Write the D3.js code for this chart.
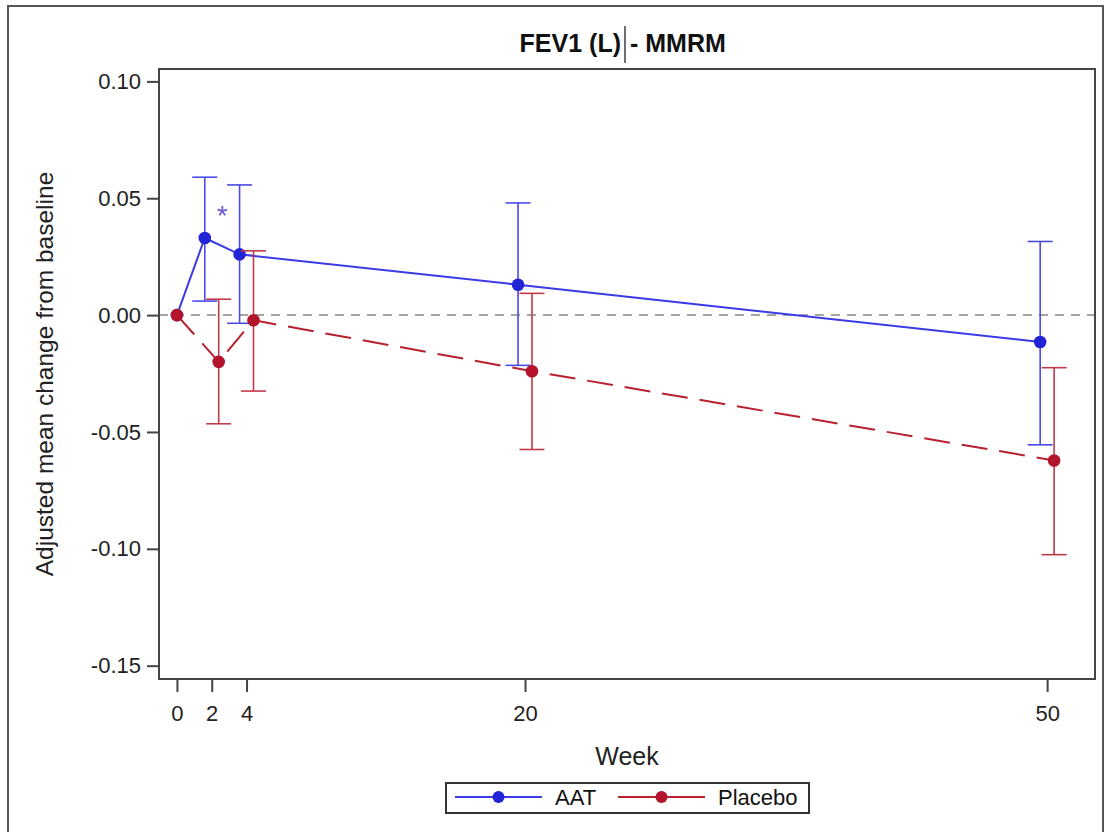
<!DOCTYPE html>
<html>
<head>
<meta charset="utf-8">
<script src="https://cdn.jsdelivr.net/npm/d3@7"></script>
<style>
  body { margin: 0; background: #fff; }
  text { font-family: "Liberation Sans", Arial, sans-serif; }
</style>
</head>
<body>
<div id="chart"></div>
<script>
// data
const weeks = [0, 2, 4, 20, 50];
const aatMean = [0, 0.033, 0.026, 0.013, -0.0115];
const aatLower = [0, 0.006, -0.0035, -0.0215, -0.0555];
const aatUpper = [0, 0.059, 0.0557, 0.048, 0.0315];
const placeboMean = [0, -0.020, -0.0022, -0.024, -0.0622];
const placeboLower = [0, -0.0465, -0.0325, -0.0575, -0.1025];
const placeboUpper = [0, 0.0068, 0.0275, 0.0093, -0.0225];
const yTicks = [-0.15, -0.10, -0.05, 0.00, 0.05, 0.10];
const starMark = { week: 2.6, value: 0.044 };

const width = 1107, height = 832;
const margin = { top: 69, right: 12, bottom: 153, left: 159 };

const svg = d3.select("#chart")
  .append("svg")
  .attr("width", width)
  .attr("height", height);

// outer border
svg.append("rect")
  .attr("x", 8).attr("y", 6)
  .attr("width", 1095).attr("height", 850)
  .attr("fill", "none")
  .attr("stroke", "#555")
  .attr("stroke-width", 2);

const x = d3.scaleLinear().domain([-1.03, 52.75]).range([margin.left, width - margin.right]);
const y = d3.scaleLinear().domain([-0.1557, 0.1053]).range([height - margin.bottom, margin.top]);

const series = [
  { name: "AAT", mean: aatMean, lo: aatLower, hi: aatUpper, shift: -0.4,
    line: "#3a3ae6", dot: "#2323d6", bar: "#4a4ae8", dash: null },
  { name: "Placebo", mean: placeboMean, lo: placeboLower, hi: placeboUpper, shift: 0.4,
    line: "#b8202f", dot: "#b3142b", bar: "#c23a4a", dash: "26,12" }
];

// zero reference line
svg.append("line")
  .attr("x1", x(-1.03)).attr("x2", x(52.75))
  .attr("y1", y(0)).attr("y2", y(0))
  .attr("stroke", "#888")
  .attr("stroke-width", 1.5)
  .attr("stroke-dasharray", "9,7");

series.forEach(s => {
  const pts = weeks.map((w, i) => ({
    w: w === 0 ? w : w + s.shift,
    m: s.mean[i], lo: s.lo[i], hi: s.hi[i]
  }));

  svg.append("path")
    .datum(pts)
    .attr("fill", "none")
    .attr("stroke", s.line)
    .attr("stroke-width", 2)
    .attr("stroke-dasharray", s.dash)
    .attr("d", d3.line().x(d => x(d.w)).y(d => y(d.m)));

  const eb = svg.append("g")
    .attr("stroke", s.bar)
    .attr("stroke-width", 1.6);
  pts.filter(d => d.hi !== d.lo).forEach(d => {
    eb.append("line")
      .attr("x1", x(d.w)).attr("x2", x(d.w))
      .attr("y1", y(d.lo)).attr("y2", y(d.hi));
    [d.lo, d.hi].forEach(v => {
      eb.append("line")
        .attr("x1", x(d.w) - 12.5).attr("x2", x(d.w) + 12.5)
        .attr("y1", y(v)).attr("y2", y(v));
    });
  });

  svg.append("g")
    .selectAll("circle")
    .data(pts)
    .enter()
    .append("circle")
    .attr("cx", d => x(d.w))
    .attr("cy", d => y(d.m))
    .attr("r", 6.3)
    .attr("fill", s.dot);
});

svg.append("text")
  .attr("x", x(starMark.week))
  .attr("y", y(starMark.value) + 13)
  .attr("text-anchor", "middle")
  .style("font-size", "28px")
  .attr("fill", "#6a5acd")
  .text("*");

// frame
svg.append("rect")
  .attr("x", margin.left).attr("y", margin.top)
  .attr("width", width - margin.right - margin.left)
  .attr("height", height - margin.bottom - margin.top)
  .attr("fill", "none")
  .attr("stroke", "#444")
  .attr("stroke-width", 2);

// axes
const fmtY = d => d3.format(".2f")(d).replace("\u2212", "-");
const xAxis = svg.append("g")
  .attr("transform", `translate(0,${height - margin.bottom})`)
  .call(d3.axisBottom(x).tickValues(weeks).tickSize(13).tickPadding(13).tickFormat(d3.format("d")));
const yAxis = svg.append("g")
  .attr("transform", `translate(${margin.left},0)`)
  .call(d3.axisLeft(y).tickValues(yTicks).tickSize(12).tickPadding(6).tickFormat(fmtY));

[xAxis, yAxis].forEach(a => {
  a.select(".domain").remove();
  a.selectAll(".tick line").attr("stroke", "#444").attr("stroke-width", 2);
  a.selectAll(".tick text")
    .attr("fill", "#222")
    .style("font-size", "22px")
    .style("font-family", "'Liberation Sans', Arial, sans-serif");
});

// title
svg.append("text")
  .attr("x", 621).attr("y", 52)
  .attr("text-anchor", "end")
  .style("font-size", "25px")
  .style("font-weight", "bold")
  .attr("fill", "#111")
  .text("FEV1 (L)");
svg.append("text")
  .attr("x", 630).attr("y", 52)
  .attr("text-anchor", "start")
  .style("font-size", "25px")
  .style("font-weight", "bold")
  .attr("fill", "#111")
  .text("- MMRM");
svg.append("line")
  .attr("x1", 625).attr("x2", 625)
  .attr("y1", 26).attr("y2", 63)
  .attr("stroke", "#222").attr("stroke-width", 1.3);

// axis titles
svg.append("text")
  .attr("x", (margin.left + width - margin.right) / 2)
  .attr("y", 765)
  .attr("text-anchor", "middle")
  .style("font-size", "25px")
  .attr("fill", "#222")
  .text("Week");

svg.append("text")
  .attr("transform", `translate(53,${(margin.top + height - margin.bottom) / 2}) rotate(-90)`)
  .attr("text-anchor", "middle")
  .style("font-size", "24.5px")
  .attr("fill", "#222")
  .text("Adjusted mean change from baseline");

// legend
const legend = svg.append("g");
legend.append("rect")
  .attr("x", 446).attr("y", 783)
  .attr("width", 363).attr("height", 30)
  .attr("fill", "#fff")
  .attr("stroke", "#333")
  .attr("stroke-width", 2);

const legendData = [
  { label: "AAT", color: "#3a3ae6", dot: "#2323d6", x0: 455 },
  { label: "Placebo", color: "#b8202f", dot: "#b3142b", x0: 618 }
];
legendData.forEach(d => {
  legend.append("line")
    .attr("x1", d.x0).attr("x2", d.x0 + 87)
    .attr("y1", 797).attr("y2", 797)
    .attr("stroke", d.color)
    .attr("stroke-width", 1.8);
  legend.append("circle")
    .attr("cx", d.x0 + 43.5).attr("cy", 797)
    .attr("r", 6)
    .attr("fill", d.dot);
  legend.append("text")
    .attr("x", d.x0 + 100).attr("y", 797)
    .attr("dy", "0.36em")
    .style("font-size", "22px")
    .attr("fill", "#111")
    .text(d.label);
});
</script>
</body>
</html>
